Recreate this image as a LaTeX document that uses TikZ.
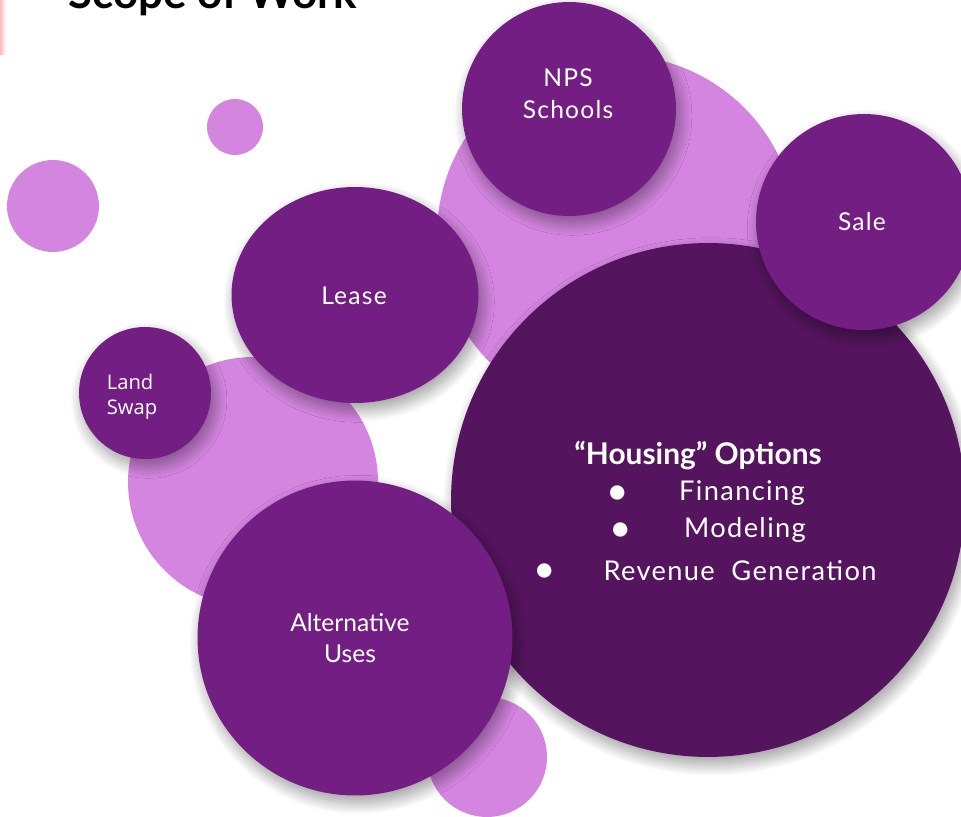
\documentclass[tikz,border=0pt]{standalone}
\usepackage{fontspec}
\setmainfont{Lato}
\newfontfamily\swapfont{Open Sans}
\usepackage{tikz}
\usetikzlibrary{shapes.geometric}
\usetikzlibrary{shadows.blur}
\usetikzlibrary{positioning}
\definecolor{pale}{HTML}{D485E0}
\definecolor{plum}{HTML}{731E83}
\definecolor{deepplum}{HTML}{55155E}

\begin{document}
\begin{tikzpicture}
      [x=0.02cm,y=-0.02cm,
      lite/.style={circle,fill=pale,inner sep=0pt},
      bubble/.style={circle,fill=plum,inner sep=0pt,
        blur shadow={shadow xshift=2pt,shadow yshift=-4pt,shadow opacity=40,
          shadow blur radius=7pt,shadow blur steps=24}},
      txt/.style={text=white,align=center,
        font=\fontsize{14}{18}\selectfont\addfontfeature{LetterSpace=5}},
      listtxt/.style={text=white,
        font=\fontsize{15.5}{18}\selectfont\addfontfeature{LetterSpace=5}},
      dotmark/.style={text=white,inner sep=0pt,text height=1.2ex,text depth=0pt,
        font=\fontsize{22}{22}\selectfont}]
\useasboundingbox (0,0) rectangle (961,817);
\shade[left color=red!45,right color=white,opacity=0.6] (0,0) rectangle (6,55);
\node[anchor=base west,inner sep=0pt,font=\bfseries\fontsize{25}{25}\selectfont] (title) at (68,9) {Scope of Work};

% pale circles at the back
\node[lite,minimum size=1.12cm] (dotA) at (235,127) {};
\node[lite,minimum size=1.84cm] (dotB) at (53,206) {};
\node[lite,minimum size=7.2cm] (backA) at (617,235) {};
\node[lite,minimum size=5.0cm] (backB) at (253,482) {};
\node[lite,minimum size=2.4cm] (dotC) at (487,757) {};

% purple bubbles
\node[bubble,fill=deepplum,minimum size=10.28cm] (housing) at (708,500) {};
\node[bubble,ellipse,minimum width=4.94cm,minimum height=4.32cm] (lease) at (355,295) {};
\node[bubble,minimum size=4.28cm] (nps) at (569,109) {};
\node[bubble,minimum size=4.32cm] (sale) at (864,222) {};
\node[bubble,minimum size=2.64cm] (swap) at (145,393) {};
\node[bubble,minimum size=6.3cm] (altuse) at (355,638) {};

\node[txt] (npstext) at (568,94) {NPS\\Schools};
\node[txt] (saletext) at (862,222) {Sale};
\node[txt] (leasetext) at (354,296) {Lease};
\node[txt,align=left,font=\swapfont\fontsize{11.5}{14}\selectfont] (swaptext) at (132,397) {Land\\Swap};
\node[txt,font=\fontsize{14}{18}\selectfont] (alttext) at (350,638) {Alternative\\Uses};

\node[txt,font=\bfseries\fontsize{17}{18}\selectfont] (housingtext) at (698,456) {“Housing” Options};
\node[dotmark] (dotfin) at (618,499) {\textbullet};
\node[listtxt] (fin) at (742,493) {Financing};
\node[dotmark] (dotmod) at (621,536) {\textbullet};
\node[listtxt] (mod) at (745,530) {Modeling};
\node[dotmark] (dotrev) at (545,577) {\textbullet};
\node[listtxt] (rev) at (740,571) {Revenue\ \ Generation};
\end{tikzpicture}
\end{document}
